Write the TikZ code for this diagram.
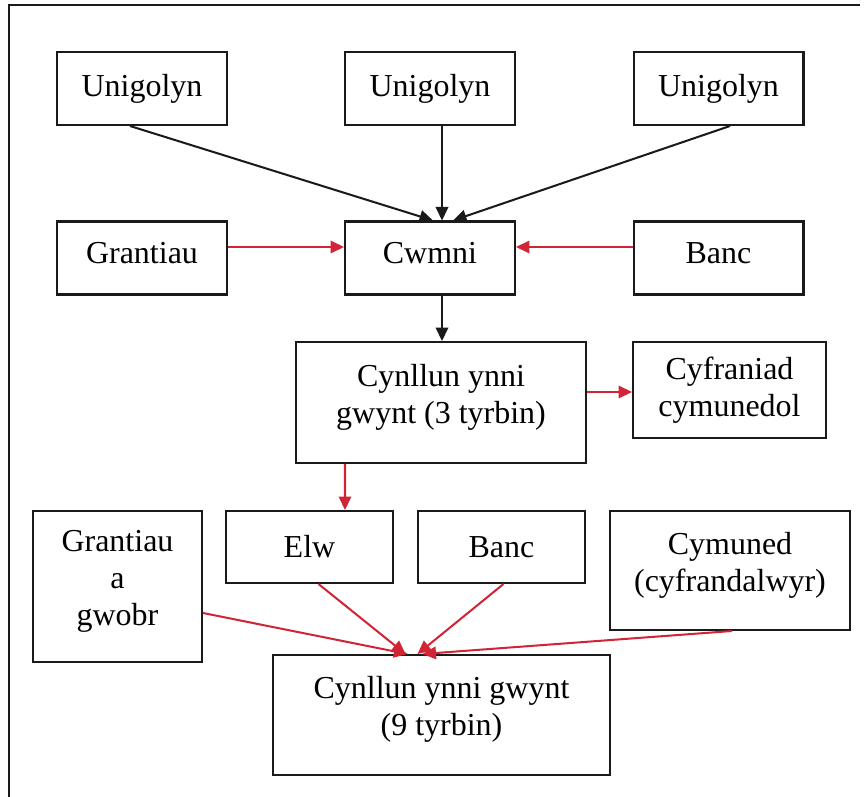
\documentclass[tikz,border=0pt]{standalone}
\usepackage{fontspec}
\setmainfont{Liberation Serif}
\usetikzlibrary{arrows.meta, calc}
\definecolor{cwred}{HTML}{D12536}
\definecolor{cwline}{HTML}{1A1A1A}

\begin{document}
\begin{tikzpicture}[x=0.02cm, y=-0.02cm,
          font=\fontsize{18.2}{21.2}\selectfont,
          box/.style={draw=cwline, line width=1.15pt, inner sep=2pt, align=center, minimum width=3.4cm, minimum height=1.46cm},
          multi/.style={box, text depth=0.35cm},
          blk/.style={-{Triangle[length=0.27cm, width=0.25cm]}, cwline, line width=1.15pt},
          rd/.style={-{Triangle[length=0.27cm, width=0.25cm]}, cwred, line width=1.15pt}]
          \useasboundingbox (0,0) rectangle (866,797);
          \draw[cwline, line width=1.15pt] (9,797) -- (9,5) -- (860,5);
          % unigolion
          \node[box] (u1) at (142,88.5) {Unigolyn};
          \node[box] (u2) at (430,88.5) {Unigolyn};
          \node[box] (u3) at (718.5,88.5) {Unigolyn};
          % cwmni a'r cyllid
          \node[box, text depth=0.2cm] (gr) at (142,258) {Grantiau};
          \node[box, text depth=0.2cm] (cw) at (430,258) {Cwmni};
          \node[box, text depth=0.2cm] (bn) at (718.5,258) {Banc};
          \node[multi, minimum width=5.8cm, minimum height=2.42cm] (cy3) at (441,402.5) {Cynllun ynni\\gwynt (3 tyrbin)};
          \node[box, minimum width=3.86cm, minimum height=1.92cm] (cyf) at (729.5,390) {Cyfraniad\\cymunedol};
          % cam dau
          \node[multi, minimum width=3.38cm, minimum height=3.02cm] (ga) at (117.5,586.5) {Grantiau\\a\\gwobr};
          \node[box, minimum width=3.34cm, minimum height=1.44cm] (elw) at (309.5,547) {Elw};
          \node[box, minimum width=3.34cm, minimum height=1.44cm] (bn2) at (501.5,547) {Banc};
          \node[multi, minimum width=4.8cm, minimum height=2.38cm] (cym) at (730,570.5) {Cymuned\\(cyfrandalwyr)};
          \node[multi, minimum width=6.74cm, minimum height=2.4cm] (cy9) at (441.5,715) {Cynllun ynni gwynt\\(9 tyrbin)};
          % saethau du
          \draw[blk] ($(u1.south)+(-12,0)$) -- ($(cw.north)+(3,0)$);
          \draw[blk] ($(u2.south)+(12,0)$) -- ($(cw.north)+(12,0)$);
          \draw[blk] ($(u3.south)+(11.5,0)$) -- ($(cw.north)+(23,0)$);
          \draw[blk] ($(cw.south)+(12,0)$) -- ($(cy3.north)+(1,0)$);
          % saethau coch
          \draw[rd] ($(gr.east)+(0,-11)$) -- ($(cw.west)+(0,-11)$);
          \draw[rd] ($(bn.west)+(0,-11)$) -- ($(cw.east)+(0,-11)$);
          \draw[rd] ($(cy3.east)+(0,-10.5)$) -- ($(cyf.west)+(0,2)$);
          \draw[rd] ($(cy3.south)+(-96,0)$) -- ($(elw.north)+(35.5,0)$);
          \draw[rd] ($(ga.east)+(0,26.5)$) -- ($(cy9.north)+(-34,0)$);
          \draw[rd] ($(elw.south)+(9,0)$) -- ($(cy9.north)+(-36,0)$);
          \draw[rd] ($(bn2.south)+(2,0)$) -- ($(cy9.north)+(-24,0)$);
          \draw[rd] ($(cym.south)+(2,0)$) -- ($(cy9.north)+(-19,0)$);
        \end{tikzpicture}
\end{document}
